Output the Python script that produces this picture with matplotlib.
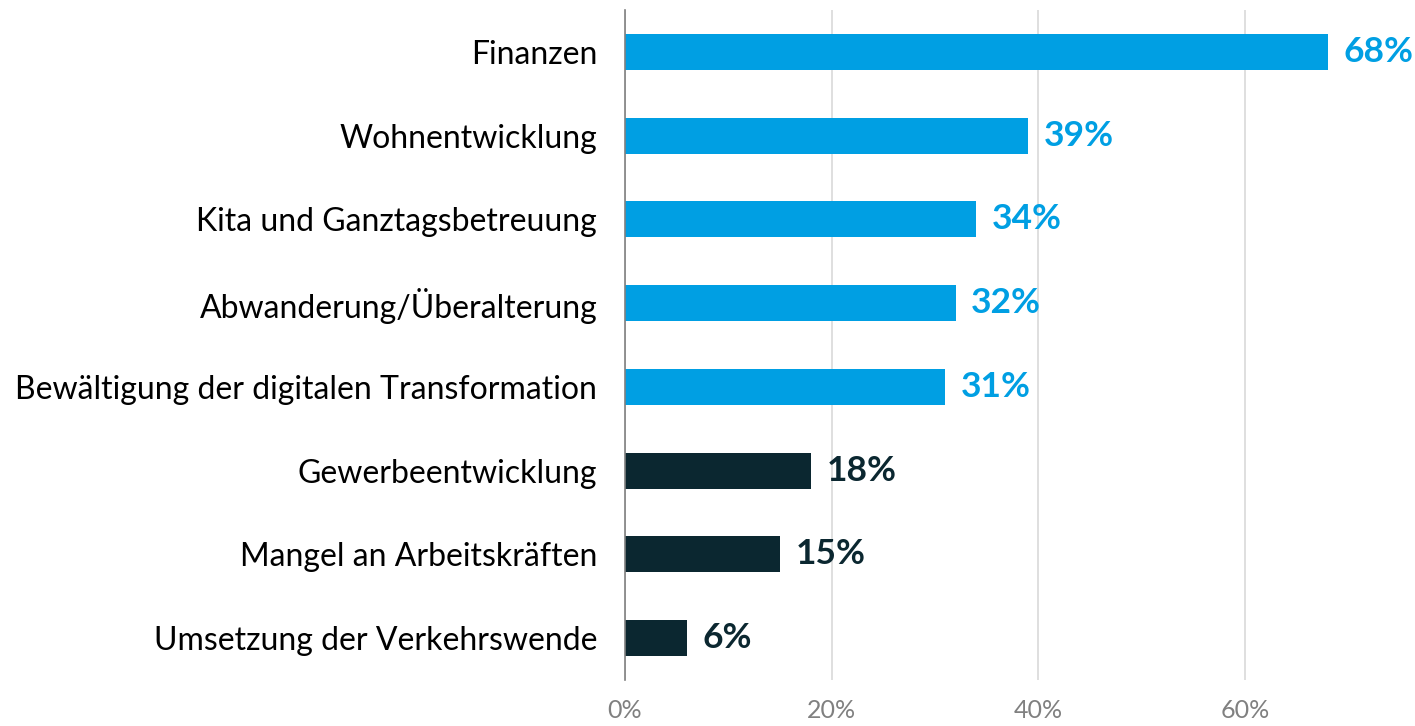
import matplotlib
matplotlib.use("Agg")
import matplotlib.pyplot as plt
from matplotlib.ticker import FuncFormatter

plt.rcParams['font.family'] = ['Lato', 'DejaVu Sans']

# Daten
categories = [
    "Finanzen",
    "Wohnentwicklung",
    "Kita und Ganztagsbetreuung",
    "Abwanderung/Überalterung",
    "Bewältigung der digitalen Transformation",
    "Gewerbeentwicklung",
    "Mangel an Arbeitskräften",
    "Umsetzung der Verkehrswende",
]
values = [68, 39, 34, 32, 31, 18, 15, 6]
highlight = [True, True, True, True, True, False, False, False]
xticks = [0, 20, 40, 60]

blue = "#009fe3"
dark = "#0b2730"

fig = plt.figure(figsize=(14.15, 7.26), dpi=100)
ax = fig.add_axes([0.4417, 0.0634, 0.5583, 0.9228])

colors = [blue if h else dark for h in highlight]
y = list(range(len(categories)))
ax.barh(y, values, height=0.43, color=colors, zorder=3)

for yi, v, c in zip(y, values, colors):
    ax.text(v + 1.5, yi, f"{v}%", va='center', ha='left', fontsize=25.5,
            fontweight='bold', color=c)

ax.set_ylim(len(categories) - 0.5, -0.5)
ax.set_xlim(0, 76.45)
ax.set_yticks(y)
ax.set_yticklabels(categories, fontsize=23, color="#000000")
ax.set_xticks(xticks)
ax.xaxis.set_major_formatter(FuncFormatter(lambda v, p: f"{v:.0f}%"))
ax.tick_params(axis='x', labelsize=18, labelcolor="#808080", length=0, pad=14)
ax.tick_params(axis='y', length=0, pad=20)

ax.grid(axis='x', color="#d9d9d9", linewidth=1.2, zorder=0)
for s in ['top', 'right', 'bottom']:
    ax.spines[s].set_visible(False)
ax.spines['left'].set_color("#808080")
ax.spines['left'].set_linewidth(1.2)
ax.spines['left'].set_zorder(4)

fig.savefig("out.png", dpi=100)
